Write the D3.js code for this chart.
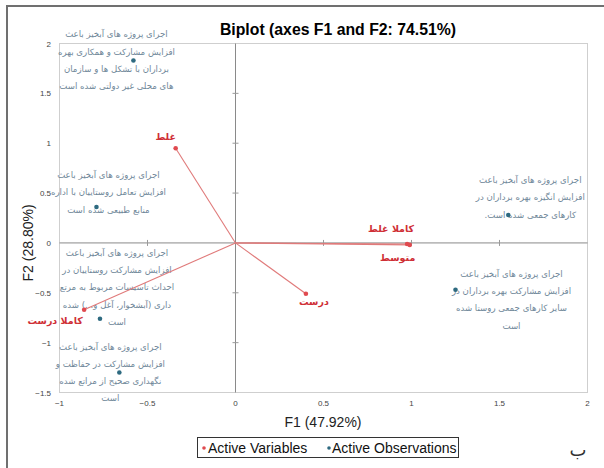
<!DOCTYPE html>
<html>
<head>
<meta charset="utf-8">
<script src="https://cdn.jsdelivr.net/npm/d3@7"></script>
<style>
  html, body { margin: 0; padding: 0; background: #fff; }
  svg { display: block; }
</style>
</head>
<body>
<svg id="chart" width="604" height="468"></svg>
<script>
// Active variables (F1, F2 coordinates)
const varNames = ["غلط", "کاملا غلط", "متوسط", "درست", "کاملا درست"];
const varF1 = [-0.34, 0.975, 0.99, 0.40, -0.86];
const varF2 = [0.95, -0.01, -0.02, -0.51, -0.67];

// Active observations (F1, F2 coordinates) and their multi-line labels
const obsF1 = [-0.58, -0.79, 1.55, -0.77, -0.66, 1.25];
const obsF2 = [1.83, 0.36, 0.28, -0.76, -1.30, -0.47];
const obsLabels = [
  ["اجرای پروژه های آبخیز باعث", "افزایش مشارکت و همکاری بهره", "برداران با تشکل ها و سازمان", "های محلی غیر دولتی شده است"],
  ["اجرای پروژه های آبخیز باعث", "افزایش تعامل روستاییان با اداره", "منابع طبیعی شده است"],
  ["اجرای پروژه های آبخیز باعث", "افزایش انگیزه بهره برداران در", "کارهای جمعی شده است."],
  ["اجرای پروژه های آبخیز باعث", "افزایش مشارکت روستاییان در", "احداث تاسیسات مربوط به مرتع", "داری (آبشخوار، آغل و...) شده", "است"],
  ["اجرای پروژه های آبخیز باعث", "افزایش مشارکت در حفاظت و", "نگهداری صحیح از مراتع شده", "است"],
  ["اجرای پروژه های آبخیز باعث", "افزایش مشارکت بهره برداران در", "سایر کارهای جمعی روستا شده", "است"]
];

// Axis ticks
const xTicks = [-1, -0.5, 0, 0.5, 1, 1.5, 2];
const yTicks = [-1.5, -1, -0.5, 0, 0.5, 1, 1.5, 2];

// Label placement: observation text block centre (px offset from point, first line baseline)
const obsLabelOffset = [[-17, -23], [12, -29], [22, -32], [17, -63], [-9, -23], [56, -13]];
// Variable label offsets (px) from the point
const varLabelOffset = [[-10, -8], [-16, -12], [-12, 16], [8, 11], [-29, 14]];

const svg = d3.select("#chart");

// Outer frame (top and left edges)
svg.append("path")
  .attr("d", "M7,468 L7,6 L604,6")
  .attr("fill", "none").attr("stroke", "#707070").attr("stroke-width", 2);

const x = d3.scaleLinear().domain([-1, 2]).range([59.5, 587.5]);
const y = d3.scaleLinear().domain([-1.5, 2]).range([392.5, 43.5]);

// Plot frame
svg.append("rect")
  .attr("x", x(-1)).attr("y", y(2))
  .attr("width", x(2) - x(-1)).attr("height", y(-1.5) - y(2))
  .attr("fill", "none").attr("stroke", "#cfcfcf").attr("stroke-width", 1);

// Tick labels
const tickFont = "Liberation Sans, Arial, sans-serif";
svg.append("g").selectAll("text").data(xTicks).join("text")
  .attr("x", d => x(d)).attr("y", 406)
  .attr("text-anchor", "middle")
  .attr("font-family", tickFont).attr("font-size", 8).attr("fill", "#444")
  .text(d => d3.format("")(d));
svg.append("g").selectAll("text").data(yTicks).join("text")
  .attr("x", 51).attr("y", d => y(d) + 3)
  .attr("text-anchor", "end")
  .attr("font-family", tickFont).attr("font-size", 8).attr("fill", "#444")
  .text(d => d3.format("")(d));

// Zero axes through the origin, with small tick marks
svg.append("line")
  .attr("x1", x(-1)).attr("x2", x(2)).attr("y1", y(0)).attr("y2", y(0))
  .attr("stroke", "#8a8a8a").attr("stroke-width", 1);
svg.append("line")
  .attr("x1", x(0)).attr("x2", x(0)).attr("y1", y(2)).attr("y2", y(-1.5))
  .attr("stroke", "#8a8a8a").attr("stroke-width", 1);
svg.append("g").selectAll("line").data(yTicks.filter(d => d !== 0 && d !== 2 && d !== -1.5)).join("line")
  .attr("x1", x(0) - 3).attr("x2", x(0) + 3)
  .attr("y1", d => y(d)).attr("y2", d => y(d))
  .attr("stroke", "#9a9a9a");
svg.append("g").selectAll("line").data(xTicks.filter(d => d !== 0 && d !== -1 && d !== 2)).join("line")
  .attr("y1", y(0) - 3).attr("y2", y(0) + 3)
  .attr("x1", d => x(d)).attr("x2", d => x(d))
  .attr("stroke", "#9a9a9a");

// Observation labels
const faFont = "DejaVu Sans, Noto Sans, sans-serif";
const obsText = "#6f8799";
const obsIdx = d3.range(obsF1.length);
const obsG = svg.append("g");
obsIdx.forEach(i => {
  const cx = x(obsF1[i]) + obsLabelOffset[i][0];
  const cy = y(obsF2[i]) + obsLabelOffset[i][1];
  const t = obsG.append("text")
    .attr("font-family", faFont).attr("font-size", 8.6)
    .attr("fill", obsText).attr("text-anchor", "middle")
    .attr("direction", "rtl");
  obsLabels[i].forEach((line, k) => {
    t.append("tspan").attr("x", cx).attr("y", cy + k * 17.3).text(line);
  });
});

// Observation points
svg.append("g").selectAll("circle").data(obsIdx).join("circle")
  .attr("cx", i => x(obsF1[i])).attr("cy", i => y(obsF2[i]))
  .attr("r", 2.3).attr("fill", "#2e6a80");

// Variable vectors
const varIdx = d3.range(varF1.length);
svg.append("g").selectAll("line").data(varIdx).join("line")
  .attr("x1", x(0)).attr("y1", y(0))
  .attr("x2", i => x(varF1[i])).attr("y2", i => y(varF2[i]))
  .attr("stroke", "#e07a7a").attr("stroke-width", 1.1);
svg.append("g").selectAll("circle").data(varIdx).join("circle")
  .attr("cx", i => x(varF1[i])).attr("cy", i => y(varF2[i]))
  .attr("r", 2.3).attr("fill", "#e04a4f");
svg.append("g").selectAll("text").data(varIdx).join("text")
  .attr("x", i => x(varF1[i]) + varLabelOffset[i][0])
  .attr("y", i => y(varF2[i]) + varLabelOffset[i][1])
  .attr("text-anchor", "middle").attr("direction", "rtl")
  .attr("font-family", faFont).attr("font-size", 9.5).attr("font-weight", "bold")
  .attr("fill", "#cf2f36")
  .text(i => varNames[i]);

// Title
svg.append("text")
  .attr("x", 338).attr("y", 35).attr("text-anchor", "middle")
  .attr("font-family", "Liberation Sans, Arial, sans-serif")
  .attr("font-size", 15.8).attr("font-weight", "bold").attr("fill", "#000")
  .text("Biplot (axes F1 and F2: 74.51%)");

// Axis titles
svg.append("text")
  .attr("x", 323).attr("y", 427).attr("text-anchor", "middle")
  .attr("font-family", "Liberation Sans, Arial, sans-serif")
  .attr("font-size", 14).attr("fill", "#222")
  .text("F1 (47.92%)");
svg.append("text")
  .attr("transform", `translate(33,${y(0)}) rotate(-90)`)
  .attr("text-anchor", "middle")
  .attr("font-family", "Liberation Sans, Arial, sans-serif")
  .attr("font-size", 14).attr("fill", "#222")
  .text("F2 (28.80%)");

// Legend
const lg = svg.append("g");
lg.append("rect").attr("x", 197.5).attr("y", 437.5).attr("width", 261).attr("height", 20)
  .attr("fill", "#fff").attr("stroke", "#333").attr("stroke-width", 1);
lg.append("circle").attr("cx", 204).attr("cy", 448).attr("r", 1.8).attr("fill", "#e04a4f");
lg.append("text").attr("x", 208).attr("y", 453)
  .attr("font-family", "Liberation Sans, Arial, sans-serif").attr("font-size", 14).attr("fill", "#111")
  .text("Active Variables");
lg.append("circle").attr("cx", 329).attr("cy", 448).attr("r", 1.8).attr("fill", "#2e6a80");
lg.append("text").attr("x", 332).attr("y", 453)
  .attr("font-family", "Liberation Sans, Arial, sans-serif").attr("font-size", 14).attr("fill", "#111")
  .text("Active Observations");

// Panel letter
svg.append("text")
  .attr("x", 578).attr("y", 456).attr("text-anchor", "middle")
  .attr("font-family", faFont).attr("font-size", 18).attr("fill", "#333")
  .text("ب");
</script>
</body>
</html>
